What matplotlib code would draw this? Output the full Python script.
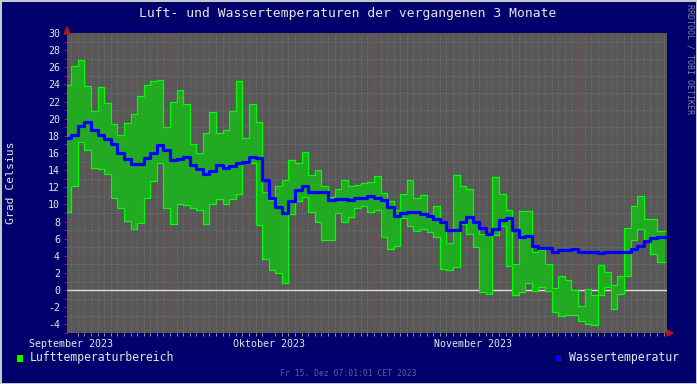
import numpy as np
import matplotlib
matplotlib.use("Agg")
import matplotlib.pyplot as plt
from matplotlib.patches import Rectangle, Polygon

# ---------------- data ----------------
title = "Luft- und Wassertemperaturen der vergangenen 3 Monate"
y_label = "Grad Celsius"
month_labels = ["September 2023", "Oktober 2023", "November 2023"]
month_days = [0, 30, 61]                     # days after 1 Sep 2023
y_ticks = list(range(-4, 31, 2))
legend_air = "Lufttemperaturbereich"
legend_water = "Wassertemperatur"
footer = "Fr 15. Dez 07:01:01 CET 2023"
watermark = "RRDTOOL / TOBI OETIKER"

day = list(range(-1, 90))                    # daily steps, day 0 = 1 Sep 2023

air_max = [23.9, 26.2, 26.8, 23.8, 20.9, 23.7, 21.8, 19.4, 18.1, 19.5,
           20.6, 22.7, 23.9, 24.4, 24.5, 19.0, 21.9, 23.4, 21.7, 17.1,
           16.0, 18.3, 20.8, 18.3, 18.7, 20.9, 24.4, 17.8, 21.7, 19.6,
           11.4, 10.5, 12.1, 12.8, 15.2, 14.8, 16.1, 13.4, 14.0, 12.2,
           10.9, 11.8, 12.9, 12.1, 12.3, 12.5, 12.6, 13.3, 11.3, 10.4,
           9.3, 11.2, 12.8, 10.8, 11.1, 8.7, 9.8, 7.9, 5.5, 13.4,
           12.2, 11.8, 7.8, 6.6, 6.6, 13.2, 11.2, 9.3, 3.1, 9.2,
           9.2, 4.5, 4.7, 3.0, 0.2, 1.6, 1.2, 0.0, -1.9, 0.1,
           -0.6, 2.9, 2.1, 0.6, 1.7, 7.2, 9.8, 11.0, 8.3, 8.3,
           6.9]

air_min = [9.1, 12.1, 17.3, 16.3, 14.2, 14.1, 13.5, 10.7, 9.6, 8.1,
           7.1, 7.8, 10.7, 12.7, 14.8, 9.6, 7.7, 10.0, 9.9, 9.6,
           9.3, 7.7, 10.1, 10.6, 10.1, 10.6, 11.2, 14.8, 14.8, 7.6,
           3.6, 2.4, 2.05, 0.8, 8.9, 10.4, 10.9, 9.1, 8.0, 5.9,
           5.8, 9.0, 7.9, 8.5, 9.6, 9.8, 9.1, 9.4, 6.2, 4.8,
           5.1, 8.4, 7.5, 6.9, 7.1, 6.8, 6.2, 2.5, 2.3, 2.7,
           7.7, 6.6, 5.0, -0.2, -0.5, 6.4, 7.5, 2.8, -0.6, -0.2,
           0.8, -0.1, 0.35, -0.1, -2.6, -3.0, -2.9, -2.9, -3.6, -4.0,
           -4.1, -0.6, 0.35, -2.2, -0.5, 1.7, 5.8, 7.1, 5.9, 4.2,
           3.3]

water = [17.8, 18.1, 19.2, 19.6, 18.7, 18.1, 17.6, 17.0, 16.0, 15.3,
         14.7, 14.7, 15.4, 16.0, 16.9, 16.4, 15.2, 15.3, 15.5, 14.6,
         14.1, 13.6, 13.9, 14.6, 14.3, 14.5, 14.8, 15.0, 15.5, 15.4,
         12.8, 10.8, 9.7, 9.0, 10.4, 11.7, 12.1, 11.4, 11.5, 11.5,
         10.5, 10.6, 10.6, 10.5, 10.7, 10.8, 11.0, 10.8, 10.5, 9.7,
         8.7, 9.0, 9.1, 9.1, 8.9, 8.6, 8.3, 7.9, 7.0, 7.0,
         7.9, 8.5, 7.9, 7.3, 6.5, 7.1, 8.2, 8.4, 7.0, 6.2,
         6.3, 5.2, 4.9, 4.9, 4.5, 4.7, 4.7, 4.8, 4.5, 4.5,
         4.5, 4.3, 4.4, 4.5, 4.5, 4.5, 4.8, 5.2, 5.7, 6.1,
         6.2]

# ---------------- style ----------------
W, H = 697, 384
NAVY = "#00006c"
PLOT_BG = "#585858"
MINOR = "#767676"
MAJOR = "#8a4646"
FILL = "#22aa22"
EDGE = "#00ff00"
BLUE = "#0000ff"
TXT = "#e6e6e6"
MONO = ["DejaVu Sans Mono"]

x_start, x_end, data_end = -0.653, 90.53, 90.27
y_min, y_max = -5, 30


def fx(px):
    return px / W


def fy(py):
    return 1 - py / H


fig = plt.figure(figsize=(W / 100, H / 100), dpi=100, facecolor=NAVY)

# outer 3D-like frame
fig.patches.append(Rectangle((0, 0), 1, 1, transform=fig.transFigure,
                             fill=False, edgecolor="#c8c8c8", lw=2.2, zorder=10))

ax = fig.add_axes([fx(67), fy(333), fx(600), 300 / H])
ax.set_facecolor(PLOT_BG)
ax.set_xlim(x_start, x_end)
ax.set_ylim(y_min, y_max)
for s in ax.spines.values():
    s.set_visible(False)

# grid
for v in range(y_min + 1, y_max + 1):
    ax.axhline(v, color=MAJOR if v % 2 == 0 else MINOR, lw=0.72,
               ls=(0, (1, 2)), zorder=1)
for d in range(0, 91):
    ax.axvline(d, color=MINOR, lw=0.72, ls=(0, (1, 2)), zorder=1)
for d in [15, 46, 77]:
    ax.axvline(d, color=MAJOR, lw=0.72, ls=(0, (1, 2)), zorder=1.1)

ax.axhline(0, color="#e8d8d8", lw=1.0, zorder=1.5)

# data
xs = np.array(day, dtype=float)
xs[0] = x_start
xs = np.append(xs, data_end)
mx = np.append(air_max, air_max[-1])
mn = np.append(air_min, air_min[-1])
wt = np.append(water, water[-1])

ax.fill_between(xs, mn, mx, step="post", color=FILL, lw=0, zorder=2)
ax.step(xs, mx, where="post", color=EDGE, lw=0.85, zorder=3)
ax.step(xs, mn, where="post", color=EDGE, lw=0.85, zorder=3)
ax.step(xs, wt, where="post", color=BLUE, lw=2.3, zorder=4)

# ticks / labels
ax.set_yticks(y_ticks)
ax.set_yticklabels([str(t) for t in y_ticks], color=TXT, fontsize=7.2,
                   family=MONO)
ax.set_yticks(range(y_min, y_max + 1), minor=True)
ax.tick_params(axis="y", which="both", length=2, width=0.8, color="#a02020",
               pad=3)
ax.set_xticks(month_days)
ax.set_xticklabels(month_labels, color=TXT, fontsize=7.2, family=MONO)
ax.set_xticks(range(0, 91), minor=True)
ax.tick_params(axis="x", which="major", length=0, pad=4)
ax.tick_params(axis="x", which="minor", length=2, width=0.7, color="#9a9a9a")

# arrows
fig.patches.append(Polygon([[fx(64), fy(34)], [fx(70), fy(34)], [fx(67), fy(27)]],
                           closed=True, transform=fig.transFigure,
                           color="#b01818", zorder=5))
fig.patches.append(Polygon([[fx(667), fy(330)], [fx(667), fy(336)], [fx(673), fy(333)]],
                           closed=True, transform=fig.transFigure,
                           color="#b01818", zorder=5))

# texts
fig.text(fx(348), fy(14), title, color=TXT, fontsize=9.4, family=MONO,
         ha="center", va="center")
fig.text(fx(11), fy(183), y_label, color=TXT, fontsize=8.2, family=MONO,
         rotation=90, ha="center", va="center")
fig.text(fx(690), fy(4), watermark, color="#8484a8", fontsize=6.0, family=MONO,
         rotation=270, ha="center", va="top")

# legend
fig.patches.append(Rectangle((fx(16), fy(362)), fx(7), 8 / H,
                             transform=fig.transFigure, facecolor="#00ff00",
                             edgecolor="#000000", lw=0.7, zorder=5))
fig.text(fx(30), fy(358), legend_air, color=TXT, fontsize=8.3, family=MONO,
         ha="left", va="center")
fig.patches.append(Rectangle((fx(555), fy(362)), fx(7), 8 / H,
                             transform=fig.transFigure, facecolor=BLUE,
                             edgecolor="#000000", lw=0.7, zorder=5))
fig.text(fx(569), fy(358), legend_water, color=TXT, fontsize=8.3, family=MONO,
         ha="left", va="center")
fig.text(fx(348), fy(373), footer, color="#5a5aa8", fontsize=5.9, family=MONO,
         ha="center", va="center")

fig.savefig("out.png", dpi=100, facecolor=NAVY)
